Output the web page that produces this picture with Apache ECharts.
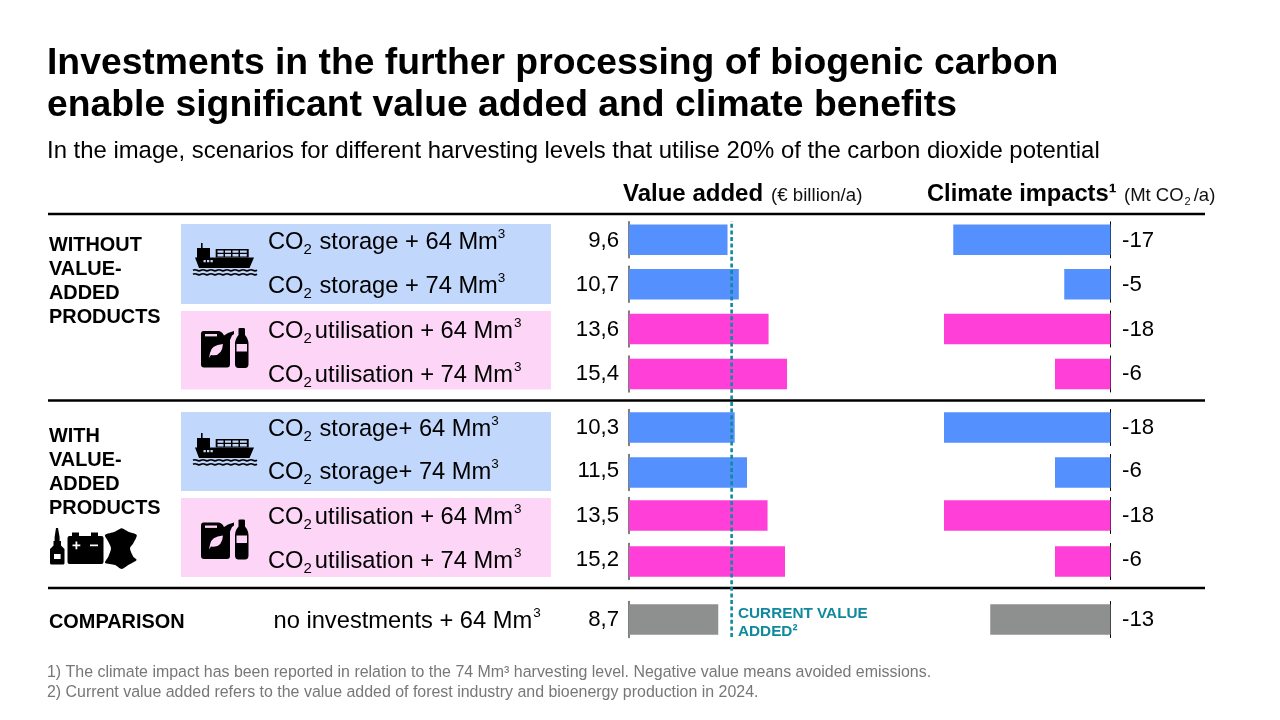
<!DOCTYPE html>
<html>
<head>
<meta charset="utf-8">
<title>Biogenic carbon scenarios</title>
<style>html,body{margin:0;padding:0;background:#fff}#chart{width:1280px;height:720px}</style>
<script src="https://cdn.jsdelivr.net/npm/echarts@6/dist/echarts.min.js"></script>
</head>
<body>
<div id="chart"></div>
<script>
// Scenario data
const rowPrefixes = ['CO', 'CO', 'CO', 'CO', 'CO', 'CO', 'CO', 'CO', ''];
const rowTexts = [
  ' storage + 64 Mm', ' storage + 74 Mm', 'utilisation + 64 Mm', 'utilisation + 74 Mm',
  ' storage+ 64 Mm', ' storage+ 74 Mm', 'utilisation + 64 Mm', 'utilisation + 74 Mm',
  'no investments + 64 Mm'
];
const valueAdded = [9.6, 10.7, 13.6, 15.4, 10.3, 11.5, 13.5, 15.2, 8.7];
const climateImpacts = [-17, -5, -18, -6, -18, -6, -18, -6, -13];
const rowKinds = ['storage', 'storage', 'use', 'use', 'storage', 'storage', 'use', 'use', 'none'];
const currentValueAdded = 10;
const valueAxisMax = 16;
const climateAxisMin = -18;

// Layout
const FONT = '"Liberation Sans", Arial, sans-serif';
const barCentres = [239.8, 284.2, 329, 374, 427.5, 472.5, 515.5, 561.5, 619.5];
const textCentres = [241, 285, 330, 374, 428, 471, 516, 560, 620];
const kindColours = { storage: '#5591fe', use: '#ff3fd7', none: '#8e9090' };
const valueLeft = 629, valueWidth = 164.2;
const climateLeft = 944, climateWidth = 166.5;
const fmt = v => String(v).replace('.', ',');

const grids = [], xAxes = [], yAxes = [], series = [];

function addBar(value, i, left, width, min, max, position, axisLine, labelSide, distance) {
  const idx = grids.length;
  grids.push({ left, width, top: barCentres[i] - 18, height: 36 });
  xAxes.push({ gridIndex: idx, type: 'value', min, max, show: false });
  yAxes.push({
    gridIndex: idx, type: 'category', data: [rowKinds[i]], position,
    axisLine: { show: true, onZero: true, lineStyle: axisLine },
    axisTick: { show: false },
    axisLabel: { show: false }
  });
  series.push({
    type: 'bar', xAxisIndex: idx, yAxisIndex: idx, barWidth: 30.5, silent: true,
    itemStyle: { color: kindColours[rowKinds[i]] },
    // each value sits on its row's text line, just outside the axis
    label: {
      show: true, position: labelSide, distance,
      offset: [0, textCentres[i] - barCentres[i]],
      formatter: p => fmt(p.value),
      color: '#000', fontFamily: FONT, fontSize: 22.2
    },
    data: [value], z: 2
  });
}

valueAdded.forEach((v, i) => addBar(v, i, valueLeft, valueWidth, 0, valueAxisMax, 'left', { color: '#555', width: 1.5 }, 'left', 10));
climateImpacts.forEach((v, i) => addBar(v, i, climateLeft, climateWidth, climateAxisMin, 0, 'right', { color: '#000', width: 1 }, 'right', 11.5));

// Dashed reference line for today's value added, on the same scale as the bars
const refIdx = grids.length;
grids.push({ left: valueLeft, width: valueWidth, top: 221, height: 416 });
xAxes.push({ gridIndex: refIdx, type: 'value', min: 0, max: valueAxisMax, show: false });
yAxes.push({ gridIndex: refIdx, type: 'value', min: 0, max: 1, show: false });
series.push({
  type: 'line', xAxisIndex: refIdx, yAxisIndex: refIdx, symbol: 'none', silent: true, z: 5,
  lineStyle: { color: '#0e8a9c', width: 2.6, type: [4, 2.6] },
  data: [[currentValueAdded, 0], [currentValueAdded, 1]]
});

// Static text, panels and pictograms
const g = [];
let shapeCount = 0;
function txt(x, y, text, size, weight, color, extra) {
  g.push({
    type: 'text', x, y, silent: true, z: 10,
    style: Object.assign({
      text, fontFamily: FONT, fontSize: size, fontWeight: weight || 'normal',
      fill: color || '#000', textVerticalAlign: 'middle', textAlign: 'left'
    }, extra || {})
  });
}
function box(x, y, w, h, fill, z) {
  g.push({ type: 'rect', silent: true, z: z || 1, shape: { x, y, width: w, height: h }, style: { fill } });
}
function rule(y) {
  g.push({ type: 'line', silent: true, z: 3, shape: { x1: 48, y1: y, x2: 1205, y2: y }, style: { stroke: '#000', lineWidth: 2.6 } });
}
// SVG path strings become registered shapes so the graphic component can place them
function pathEl(d, dy, style) {
  const name = 'iconShape' + (shapeCount++);
  echarts.graphic.registerShape(name, echarts.graphic.extendPath(d, {}));
  g.push({ type: name, silent: true, z: 6, x: 0, y: dy, style });
}
function path(d, dy, fill) {
  pathEl(d, dy, { fill });
}

txt(47, 64, 'Investments in the further processing of biogenic carbon', 37.3, 'bold');
txt(47, 106, 'enable significant value added and climate benefits', 37.3, 'bold');
txt(47, 151, 'In the image, scenarios for different harvesting levels that utilise 20% of the carbon dioxide potential', 23.9);

txt(623, 194, 'Value added', 24, 'bold');
txt(771, 196, '(€ billion/a)', 18.7, 'normal', '#111');
txt(927, 194, 'Climate impacts¹', 23.7, 'bold');
txt(1124, 196, '{n|(Mt CO}{s|2}{n|/a)}', 18.5, 'normal', '#111', {
  rich: {
    n: { fontFamily: FONT, fontSize: 18.5, lineHeight: 22, fill: '#111', verticalAlign: 'middle' },
    s: { fontFamily: FONT, fontSize: 11, lineHeight: 11, fill: '#111', verticalAlign: 'bottom', padding: [0, 3, 0, 1] }
  }
});

rule(214); rule(400.5); rule(588);

box(181, 224, 370, 80, '#c1d7fc');
box(181, 311, 370, 78.5, '#fdd5f6');
box(181, 412, 370, 79, '#c1d7fc');
box(181, 498, 370, 79, '#fdd5f6');

const sideLabels = [
  ['WITHOUT', 246], ['VALUE-', 270], ['ADDED', 294], ['PRODUCTS', 318],
  ['WITH', 437], ['VALUE-', 461], ['ADDED', 485], ['PRODUCTS', 509]
];
sideLabels.forEach(([t, y]) => txt(49, y, t, 19.9, 'bold'));
txt(49, 623, 'COMPARISON', 19.9, 'bold');

rowTexts.forEach((t, i) => {
  const head = rowPrefixes[i] ? '{m|' + rowPrefixes[i] + '}{s|2}' : '';
  const tight = t.charAt(0) !== ' ';
  txt(i === 8 ? 273.5 : 268, textCentres[i] + 1, head + '{m|' + t + '}{' + (tight ? 'w' : 'u') + '|3}', 23.7, 'normal', '#000', {
    rich: {
      m: { fontFamily: FONT, fontSize: 23.7, lineHeight: 30, fill: '#000', verticalAlign: 'middle' },
      s: { fontFamily: FONT, fontSize: 15, lineHeight: 15, fill: '#000', verticalAlign: 'bottom', padding: [0, tight ? 3 : 1, 0, 0] },
      u: { fontFamily: FONT, fontSize: 13.5, lineHeight: 25, fill: '#000', verticalAlign: 'top' },
      w: { fontFamily: FONT, fontSize: 13.5, lineHeight: 25, fill: '#000', verticalAlign: 'top', padding: [0, 0, 0, 1] }
    }
  });
});

txt(738, 614, 'CURRENT VALUE', 15.3, 'bold', '#0e8a9c');
txt(738, 632, 'ADDED²', 15.3, 'bold', '#0e8a9c');

txt(47, 673, '1) The climate impact has been reported in relation to the 74 Mm³ harvesting level. Negative value means avoided emissions.', 15.95, 'normal', '#777');
txt(47, 693, '2) Current value added refers to the value added of forest industry and bioenergy production in 2024.', 15.95, 'normal', '#777');

// Container ship
function shipIcon(dy, bg) {
  path('M201,243 h1.6 v5 h7.4 v9.5 H254 L249.5,268 H199 L195,257.5 H197 V248 H201 Z', dy, '#000');
  path('M215.7,249 h33 v8.5 h-33 Z', dy, '#000');
  // gaps between the stacked containers and the portholes
  path('M217.5,250.5 h6 v2.2 h-6 Z M225,250.5 h6 v2.2 h-6 Z M232.5,250.5 h6 v2.2 h-6 Z M240,250.5 h6.8 v2.2 h-6.8 Z', dy, bg);
  path('M217.5,254 h6 v2.4 h-6 Z M225,254 h6 v2.4 h-6 Z M232.5,254 h6 v2.4 h-6 Z M240,254 h6.8 v2.4 h-6.8 Z', dy, bg);
  path('M203.5,260 h2.3 v2.3 h-2.3 Z M207,260 h2.3 v2.3 h-2.3 Z M210.5,260 h2.3 v2.3 h-2.3 Z', dy, bg);
  [270.3, 274.3].forEach(y => {
    let d = 'M193,' + y;
    for (let x = 193; x < 253; x += 8) d += ' q2,-1.1 4,0 t4,0';
    pathEl(d, dy, { fill: 'none', stroke: '#000', lineWidth: 1.7 });
  });
}
// Canister and drinks bottle
function bottlesIcon(dy, bg) {
  path('M203.5,331 Q201,331 201,334 V364.5 Q201,367.5 204,367.5 H227 Q230,367.5 230,364.5 V340 L232,335.5 L234,334 V331 L228,333 L224,335.5 Q222,331 218,331 Z', dy, '#000');
  path('M205,334 h12 v2.4 h-12 Z', dy, bg);
  path('M223,344 Q211,345 210,353 L209,358 L211,355 Q222,357 223,344 Z', dy, bg);
  path('M238.5,328.5 Q238.5,328 240,328 h3.5 Q245,328 245,329 V335 Q248.5,339 248.5,344 V364 Q248.5,368 245,368 H238.5 Q235,368 235,364 V344 Q235,339 238.5,335 Z', dy, '#000');
  path('M236.5,344 h10.5 v7.5 h-10.5 Z', dy, bg);
}
shipIcon(0, '#c1d7fc');
shipIcon(190, '#c1d7fc');
bottlesIcon(0, '#fdd5f6');
bottlesIcon(191.5, '#fdd5f6');

// Adhesive bottle, battery and hide
path('M56,528 h2 L59.6,537 V541 H61 V545.5 L64.5,549 V563 Q64.5,564.5 63,564.5 H51.5 Q50,564.5 50,563 V549 L53.5,545.5 V541 H54.6 V537 Z', 0, '#000');
path('M54,554 h6.6 v5 h-6.6 Z', 0, '#fff');
path('M69.5,536 H101.5 Q103.5,536 103.5,538 V562 Q103.5,564 101.5,564 H69.5 Q67.5,564 67.5,562 V538 Q67.5,536 69.5,536 Z M72,532.5 h7 v3.5 h-7 Z M91,532.5 h7 v3.5 h-7 Z', 0, '#000');
path('M72.5,544.5 h3 v-3 h1.8 v3 h3 v1.8 h-3 v3 h-1.8 v-3 h-3 Z M90,544.5 h8 v1.8 h-8 Z', 0, '#fff');
g.push({
  type: 'polygon', silent: true, z: 6,
  shape: {
    smooth: 0.25,
    points: [[105, 535], [115, 531.7], [121.7, 528.3], [128.3, 531.7], [136.7, 535], [133.3, 543.3], [130, 548.3],
      [133.3, 556.7], [136.7, 560], [128.3, 565], [121.7, 569], [115, 565], [105, 562.7], [108.3, 556.7], [111, 548.3], [108.3, 541.7]]
  },
  style: { fill: '#000' }
});

const chart = echarts.init(document.getElementById('chart'), null, { renderer: 'canvas' });
chart.setOption({
  animation: false,
  backgroundColor: '#fff',
  tooltip: { show: false },
  grid: grids, xAxis: xAxes, yAxis: yAxes, series,
  graphic: { elements: g }
});
</script>
</body>
</html>
